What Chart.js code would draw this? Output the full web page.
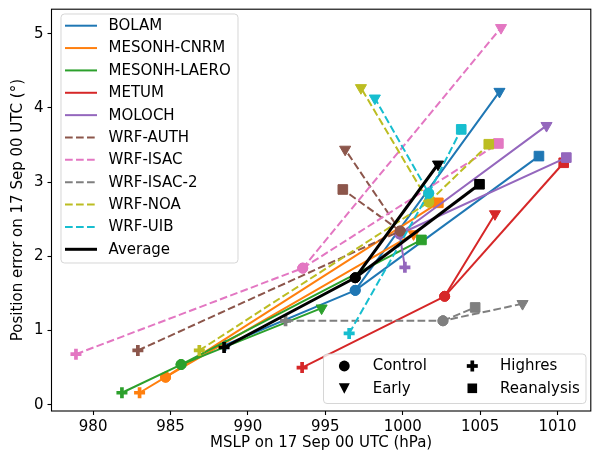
<!DOCTYPE html>
<html>
<head>
<meta charset="utf-8">
<script src="https://cdn.jsdelivr.net/npm/chart.js@4.4.0/dist/chart.umd.min.js"></script>
<style>
html, body { margin: 0; padding: 0; overflow: hidden; background: #fff; }
</style>
</head>
<body>
<canvas id="mslpChart" width="600" height="457"></canvas>
<script>
const models = ['BOLAM', 'MESONH-CNRM', 'MESONH-LAERO', 'METUM', 'MOLOCH',
    'WRF-AUTH', 'WRF-ISAC', 'WRF-ISAC-2', 'WRF-NOA', 'WRF-UIB', 'Average'];
const colors = ['#1f77b4', '#ff7f0e', '#2ca02c', '#d62728', '#9467bd',
    '#8c564b', '#e377c2', '#7f7f7f', '#bcbd22', '#17becf', '#000000'];
const dashed = [false, false, false, false, false, true, true, true, true, true, false];

// MSLP (hPa) and position error (deg) per experiment
const controlMslp = [996.93, 984.68, 985.68, 1002.71, 999.80, 999.84, 993.54, 1002.60, 1001.68, 1001.68, 996.93];
const controlErr  = [1.54, 0.37, 0.54, 1.46, 2.30, 2.34, 1.84, 1.13, 2.73, 2.85, 1.71];
const earlyMslp   = [1006.25, 1000.70, 994.76, 1005.96, 1009.29, 996.28, 1006.35, 1007.74, 997.30, 998.20, 1002.28];
const earlyErr    = [4.22, 2.30, 1.30, 2.57, 3.76, 3.44, 5.08, 1.36, 4.27, 4.13, 3.24];
const highresMslp = [988.50, 983.00, 981.86, 993.50, 1000.14, 982.89, 978.89, 992.43, 986.86, 996.54, 988.46];
const highresErr  = [0.80, 0.16, 0.16, 0.50, 1.85, 0.73, 0.68, 1.13, 0.73, 0.96, 0.77];
const reanMslp    = [1008.80, 1002.30, 1001.21, 1010.40, 1010.57, 996.13, 1006.18, 1004.68, 1005.56, 1003.78, 1004.96];
const reanErr     = [3.35, 2.72, 2.22, 3.26, 3.33, 2.90, 3.52, 1.31, 3.51, 3.71, 2.97];

const xTicks = [980, 985, 990, 995, 1000, 1005, 1010];
const yTicks = [0, 1, 2, 3, 4, 5];
const markerNames = ['Control', 'Early', 'Highres', 'Reanalysis'];

const FONT = "'DejaVu Sans', 'Liberation Sans', sans-serif";
const FSIZE = 15;
const DASH = [7.7, 3.3];

// path goes Highres -> Control -> Early -> Control -> Reanalysis,
// the way back from Early (segment starting at index 2) is hidden
const datasets = models.map((name, i) => ({
    label: name,
    data: [
        { x: highresMslp[i], y: highresErr[i] },
        { x: controlMslp[i], y: controlErr[i] },
        { x: earlyMslp[i], y: earlyErr[i] },
        { x: controlMslp[i], y: controlErr[i] },
        { x: reanMslp[i], y: reanErr[i] }
    ],
    showLine: true,
    borderColor: colors[i],
    backgroundColor: colors[i],
    borderWidth: name === 'Average' ? 3 : 2,
    borderDash: dashed[i] ? DASH : [],
    borderJoinStyle: 'bevel',
    segment: {
        borderColor: ctx => ctx.p0DataIndex === 2 ? 'rgba(0,0,0,0)' : undefined
    },
    pointStyle: ['cross', 'circle', 'triangle', 'circle', 'rect'],
    pointRadius: [5.5, 5, 6.4, 5, 6.8],
    pointRotation: [0, 0, 180, 0, 0],
    pointBorderWidth: [3.7, 1, 1, 1, 1],
    pointBackgroundColor: colors[i],
    pointBorderColor: colors[i],
    order: models.length - i
}));

function roundRect(ctx, x, y, w, h, r) {
    ctx.beginPath();
    ctx.moveTo(x + r, y);
    ctx.arcTo(x + w, y, x + w, y + h, r);
    ctx.arcTo(x + w, y + h, x, y + h, r);
    ctx.arcTo(x, y + h, x, y, r);
    ctx.arcTo(x, y, x + w, y, r);
    ctx.closePath();
}

function drawMarker(ctx, kind, x, y) {
    ctx.fillStyle = '#000';
    ctx.beginPath();
    if (kind === 'Control') {
        ctx.arc(x, y, 5.4, 0, Math.PI * 2);
        ctx.fill();
    } else if (kind === 'Early') {
        ctx.moveTo(x - 5.5, y - 5);
        ctx.lineTo(x + 5.5, y - 5);
        ctx.lineTo(x, y + 5.5);
        ctx.closePath();
        ctx.fill();
    } else if (kind === 'Highres') {
        ctx.fillRect(x - 5.5, y - 1.85, 11, 3.7);
        ctx.fillRect(x - 1.85, y - 5.5, 3.7, 11);
    } else {
        ctx.fillRect(x - 4.8, y - 4.8, 9.6, 9.6);
    }
}

const framePlugin = {
    id: 'frame',
    afterDatasetsDraw(chart) {
        const { ctx, chartArea: a } = chart;
        ctx.save();
        ctx.strokeStyle = '#000';
        ctx.lineWidth = 1.1;
        ctx.strokeRect(a.left, a.top, a.right - a.left, a.bottom - a.top);
        ctx.restore();
    }
};

const legendPlugin = {
    id: 'boxLegends',
    afterDraw(chart) {
        const ctx = chart.ctx;
        ctx.save();
        // model legend, top left
        roundRect(ctx, 61, 14, 177, 249, 3.5);
        ctx.fillStyle = 'rgba(255,255,255,0.8)';
        ctx.fill();
        ctx.strokeStyle = 'rgba(204,204,204,0.8)';
        ctx.lineWidth = 1;
        ctx.stroke();
        ctx.font = FSIZE + 'px ' + FONT;
        ctx.textBaseline = 'middle';
        models.forEach((name, i) => {
            const y = 25.7 + i * 22.36;
            ctx.beginPath();
            ctx.setLineDash(dashed[i] ? DASH : []);
            ctx.strokeStyle = colors[i];
            ctx.lineWidth = name === 'Average' ? 3 : 2;
            ctx.moveTo(65, y);
            ctx.lineTo(97, y);
            ctx.stroke();
            ctx.setLineDash([]);
            ctx.fillStyle = '#000';
            ctx.fillText(name, 108.5, y + 0.5);
        });
        // marker legend, bottom right
        roundRect(ctx, 323.5, 354, 262.5, 49.5, 3.5);
        ctx.fillStyle = 'rgba(255,255,255,0.8)';
        ctx.fill();
        ctx.strokeStyle = 'rgba(204,204,204,0.8)';
        ctx.lineWidth = 1;
        ctx.stroke();
        markerNames.forEach((name, k) => {
            const col = Math.floor(k / 2), row = k % 2;
            const mx = col ? 472.3 : 344.3;
            const tx = col ? 500 : 372.7;
            const y = row ? 388.3 : 366;
            drawMarker(ctx, name, mx, y);
            ctx.fillStyle = '#000';
            ctx.fillText(name, tx, y + 0.5);
        });
        ctx.restore();
    }
};

function noPad(s) {
    s.paddingTop = 0;
    s.paddingBottom = 0;
    s.paddingLeft = 0;
    s.paddingRight = 0;
}

new Chart(document.getElementById('mslpChart'), {
    type: 'scatter',
    data: { datasets },
    options: {
        responsive: false,
        animation: false,
        events: [],
        layout: { padding: { top: 5.7, right: 6, left: 0, bottom: 0 } },
        plugins: {
            legend: { display: false },
            tooltip: { enabled: false }
        },
        scales: {
            x: {
                type: 'linear',
                min: 977.31,
                max: 1012.15,
                afterBuildTicks: s => { s.ticks = xTicks.map(v => ({ value: v })); },
                afterFit: s => { s.height = 46; noPad(s); },
                border: { display: false },
                grid: { drawOnChartArea: false, drawTicks: true, tickLength: 4, tickWidth: 1.1, tickColor: '#000' },
                ticks: {
                    color: '#000', padding: 3, maxRotation: 0,
                    font: { family: FONT, size: FSIZE },
                    callback: v => String(v)
                },
                title: {
                    display: true,
                    text: 'MSLP on 17 Sep 00 UTC (hPa)',
                    color: '#000',
                    font: { family: FONT, size: FSIZE },
                    padding: { top: 0, bottom: 5 }
                }
            },
            y: {
                type: 'linear',
                min: -0.086,
                max: 5.33,
                afterBuildTicks: s => { s.ticks = yTicks.map(v => ({ value: v })); },
                afterFit: s => { s.width = 51.5; noPad(s); },
                border: { display: false },
                grid: { drawOnChartArea: false, drawTicks: true, tickLength: 4, tickWidth: 1.1, tickColor: '#000' },
                ticks: {
                    color: '#000', padding: 4,
                    font: { family: FONT, size: FSIZE },
                    callback: v => String(v)
                },
                title: {
                    display: true,
                    text: 'Position error on 17 Sep 00 UTC (°)',
                    color: '#000',
                    font: { family: FONT, size: FSIZE },
                    padding: { top: 9, bottom: 0 }
                }
            }
        }
    },
    plugins: [framePlugin, legendPlugin]
});
</script>
</body>
</html>
